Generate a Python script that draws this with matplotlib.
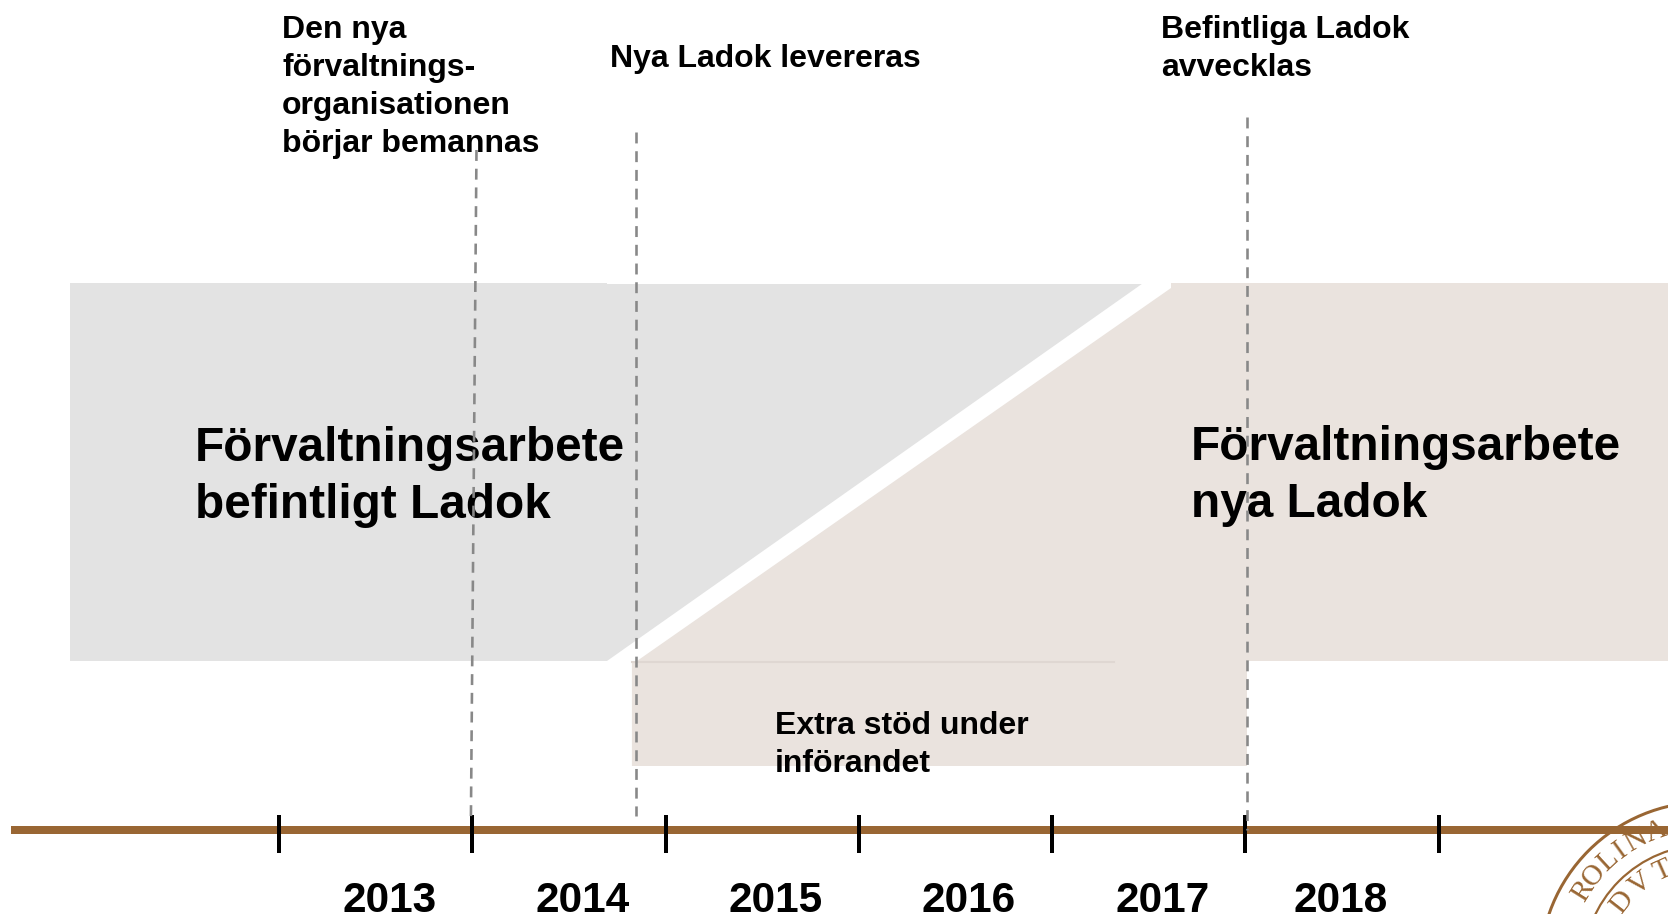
import matplotlib
matplotlib.use("Agg")
import matplotlib.pyplot as plt
from matplotlib.patches import Circle, Polygon, Rectangle
import numpy as np

# x in years on the time line, y in picture rows
tick_years = [2013, 2014, 2015, 2016, 2017, 2018, 2019]
year_labels = ["2013", "2014", "2015", "2016", "2017", "2018"]
label_years = [2013.57, 2014.57, 2015.57, 2016.57, 2017.57, 2018.49]

old_rect_x = [2011.919, 2014.697]
old_triangle_x = [2014.697, 2017.464, 2014.697]
old_triangle_y = [284, 284, 661]
old_rect_y = [283, 661]

new_x = [2014.852, 2017.615, 2017.615, 2020.2, 2020.2, 2018.008, 2018.008, 2014.826, 2014.826]
new_y = [661, 288, 283, 283, 661, 661, 766, 766, 661]
seam_x = [2014.826, 2017.32]

event_top_x = [2014.022, 2014.847, 2018.008]
event_bottom_x = [2013.993, 2014.847, 2018.008]
event_top_y = [150, 132, 117]
event_bottom_y = [822, 816, 830]

events = ["Den nya\nförvaltnings-\norganisationen\nbörjar bemannas", "Nya Ladok levereras", "Befintliga Ladok\navvecklas"]
event_text_x = [2013.017, 2014.713, 2017.564]
event_text_y = [15, 44, 15]

BROWN = "#996633"
GRAY = "#E3E3E3"
BEIGE = "#EAE3DE"
px = 1 / 1.3889  # points per pixel at dpi 100

plt.rcParams["font.family"] = ["Liberation Sans", "DejaVu Sans"]
fig = plt.figure(figsize=(16.68, 9.14), dpi=100)
ax = fig.add_axes([0, 0, 1, 1])
ax.set_xlim(2011.557, 2020.186)
ax.set_ylim(914, 0)
ax.axis("off")

ax.add_patch(Rectangle((old_rect_x[0], old_rect_y[0]), old_rect_x[1] - old_rect_x[0], old_rect_y[1] - old_rect_y[0], color=GRAY, lw=0))
ax.add_patch(Polygon(list(zip(old_triangle_x, old_triangle_y)), color=GRAY, lw=0))
ax.add_patch(Polygon(list(zip(new_x, new_y)), color=BEIGE, lw=0))
ax.plot(seam_x, [662, 662], color="#DFD7D2", lw=1.5)

ax.plot([2011.614, 2020.186], [830, 830], color=BROWN, lw=8 * px, solid_capstyle="butt", zorder=3)
for t in tick_years:
    ax.plot([t, t], [815, 853], color="black", lw=4 * px, solid_capstyle="butt", zorder=4)
for t, s in zip(label_years, year_labels):
    ax.text(t, 912, s, fontsize=30.5, fontweight="bold", ha="center", va="baseline", zorder=5)

for x0, x1, y0, y1 in zip(event_top_x, event_bottom_x, event_top_y, event_bottom_y):
    ax.plot([x0, x1], [y0, y1], color="#888888", lw=2.6 * px, dashes=(4.2, 3.0), zorder=6)

for x, y, s in zip(event_text_x, event_text_y, events):
    ax.text(x, y, s, fontsize=23, fontweight="bold", ha="left", va="top", linespacing=1.345, zorder=5)

ax.text(2012.565, 477, "Förvaltningsarbete\nbefintligt Ladok", fontsize=34.4, fontweight="bold", va="center", linespacing=1.35, zorder=5)
ax.text(2017.717, 476, "Förvaltningsarbete\nnya Ladok", fontsize=34.4, fontweight="bold", va="center", linespacing=1.35, zorder=5)
ax.text(2015.567, 745, "Extra stöd under\ninförandet", fontsize=23, fontweight="bold", va="center", linespacing=1.345, zorder=5)

# seal in the corner, cut by the edge of the picture
seal_ax = fig.add_axes([0, 0, 1, 1])
seal_ax.set_xlim(0, 1668)
seal_ax.set_ylim(914, 0)
seal_ax.axis("off")
cx, cy = 1706, 968
for r, w in [(166, 3), (123, 2.2)]:
    seal_ax.add_patch(Circle((cx, cy), r, fill=False, ec=BROWN, lw=w * px, zorder=2))
outer_letters = list("ROLINA")
outer_angles = [58, 50.5, 42.5, 36, 29, 20]
inner_letters = list("DVT")
inner_angles = [52, 38, 24]
for letters, angles, r in [(outer_letters, outer_angles, 145), (inner_letters, inner_angles, 106)]:
    for ch, a in zip(letters, angles):
        x = cx - r * np.sin(np.radians(a))
        y = cy - r * np.cos(np.radians(a))
        seal_ax.text(x, y, ch, family="Liberation Serif", fontsize=21, color=BROWN, rotation=a, ha="center", va="center", clip_on=True)

fig.savefig("out.png", dpi=100)
